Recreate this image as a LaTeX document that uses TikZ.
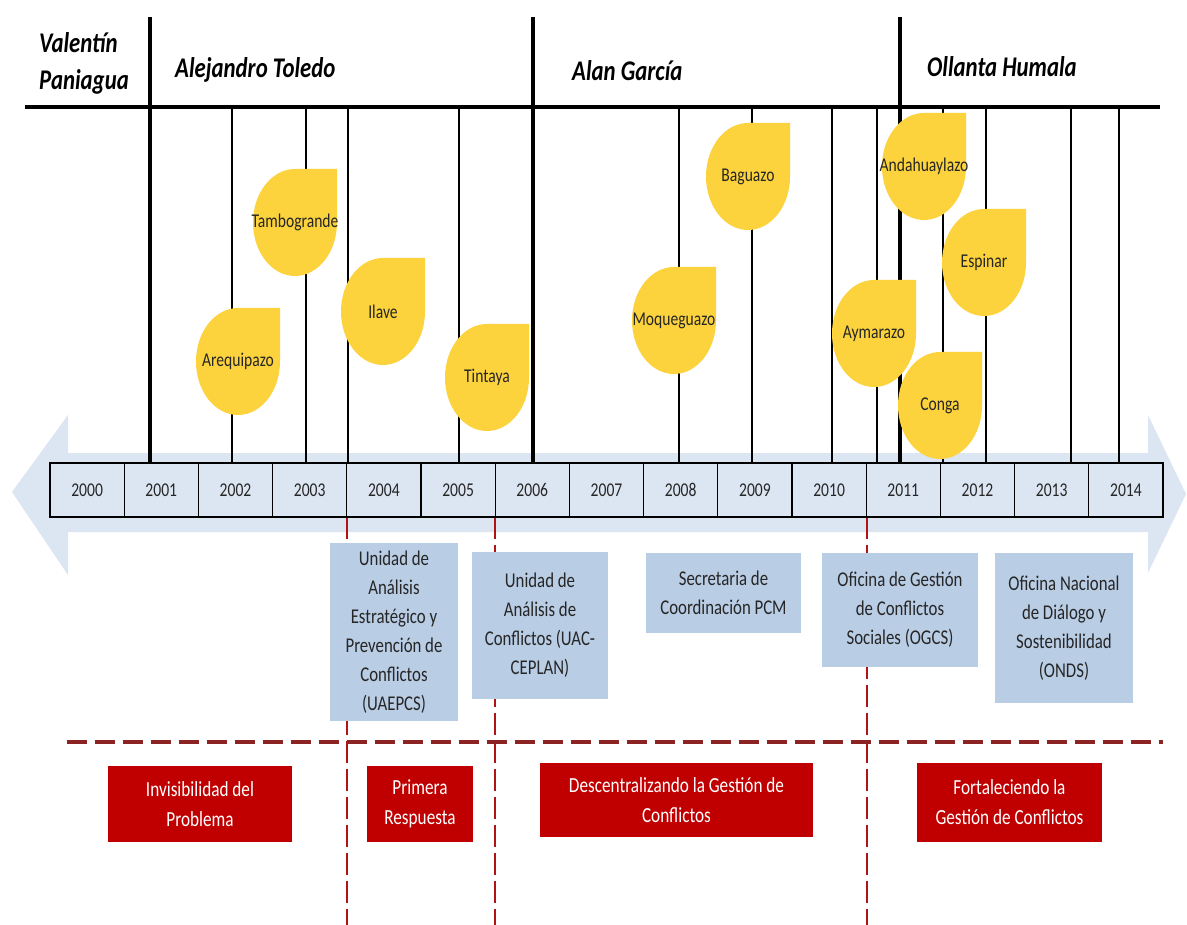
\documentclass[tikz,border=0pt]{standalone}
\usepackage{fontspec}
\setmainfont{Carlito}[FakeStretch=0.8]
\definecolor{arrowblue}{RGB}{220,230,242}
\definecolor{boxblue}{RGB}{185,205,229}
\definecolor{dropyellow}{RGB}{252,211,60}
\definecolor{boxred}{RGB}{192,0,0}
\definecolor{dashred}{RGB}{175,20,20}
\definecolor{hdashred}{RGB}{140,35,35}
\definecolor{textdark}{RGB}{38,38,38}
\newcommand{\yellowdrop}[4]{%
  \fill[dropyellow] (#1+84,#2) -- (#1+84,#2+53.5)
    arc[start angle=0,end angle=270,x radius=42,y radius=53.5] -- cycle;
  \node[droplabel] (#3) at (#1+42,#2+53.5) {#4};
}
\begin{document}
\begin{tikzpicture}[x=1pt,y=-1pt,
  yearcell/.style={draw=black,line width=1.1pt,fill=arrowblue,minimum width=74.2pt,minimum height=54pt,inner sep=0pt,text=textdark,font=\fontsize{19.5}{22}\selectfont},
  droplabel/.style={inner sep=0pt,text=textdark,font=\fontsize{19.5}{22}\selectfont},
  bluebox/.style={fill=boxblue,align=center,inner sep=0pt,text=textdark,font=\fontsize{21}{29}\selectfont},
  redbox/.style={fill=boxred,align=center,inner sep=0pt,text=white,font=\fontsize{21.5}{30}\selectfont},
  president/.style={inner sep=0pt,text=black,align=left,font=\fontsize{28.5}{37}\selectfont\bfseries\itshape},
  thickmark/.style={line width=3.5pt},
  thinmark/.style={line width=2pt},
  reddash/.style={dashred,line width=2pt,dash pattern=on 22pt off 6pt},
  hdash/.style={hdashred,line width=4pt,dash pattern=on 20pt off 8pt}
]
\fill[white] (0,0) rectangle (1187,925);
\useasboundingbox (0,0) rectangle (1187,925);

% big double arrow
\fill[arrowblue] (12,492) -- (68,415) -- (68,453) -- (1148,453) -- (1148,415)
  -- (1186,494) -- (1148,573) -- (1148,532) -- (68,532) -- (68,575) -- cycle;

% president names and header line
\node[president,anchor=west] (paniagua) at (39,63) {Valentín\\Paniagua};
\node[president,anchor=base west] (toledo) at (175,78) {Alejandro Toledo};
\node[president,anchor=base west] (garcia) at (572,81) {Alan García};
\node[president,anchor=base west] (humala) at (927,77) {Ollanta Humala};
\draw[line width=4pt] (25,107) -- (1160,107);

% vertical marks
\foreach \x in {150,533,900} \draw[thickmark] (\x,17) -- (\x,463);
\foreach \x in {232,306,348,459,679,752,832,877,943,986,1071,1119} \draw[thinmark] (\x,107) -- (\x,463);

% red dashed period separators
\foreach \x in {347,495,867} \draw[reddash] (\x,517) -- (\x,925);
\draw[hdash] (67,742) -- (1163,742);

% year cells
\foreach \i in {0,...,14}{
  \pgfmathsetmacro{\xc}{87.1+74.2*\i}
  \pgfmathtruncatemacro{\yr}{2000+\i}
  \node[yearcell] (y\yr) at (\xc,490) {\yr};
}

% conflict drops
\yellowdrop{196}{308}{arequipazo}{Arequipazo}
\yellowdrop{253}{169}{tambogrande}{Tambogrande}
\yellowdrop{341}{258}{ilave}{Ilave}
\yellowdrop{445}{324}{tintaya}{Tintaya}
\yellowdrop{632}{267}{moqueguazo}{Moqueguazo}
\yellowdrop{706}{123}{baguazo}{Baguazo}
\yellowdrop{832}{280}{aymarazo}{Aymarazo}
\yellowdrop{882}{113}{andahuaylazo}{Andahuaylazo}
\yellowdrop{898}{352}{conga}{Conga}
\yellowdrop{942}{209}{espinar}{Espinar}

% institutions
\node[bluebox,minimum width=128pt,minimum height=178pt] (uaepcs) at (394,632)
  {Unidad de\\Análisis\\Estratégico y\\Prevención de\\Conflictos\\(UAEPCS)};
\node[bluebox,minimum width=136pt,minimum height=147pt] (uac) at (540,625.5)
  {Unidad de\\Análisis de\\Conflictos (UAC-\\CEPLAN)};
\node[bluebox,minimum width=155pt,minimum height=80pt] (pcm) at (723.5,593)
  {Secretaria de\\Coordinación PCM};
\node[bluebox,minimum width=156pt,minimum height=114pt] (ogcs) at (900,610)
  {Oficina de Gestión\\de Conflictos\\Sociales (OGCS)};
\node[bluebox,minimum width=138pt,minimum height=150pt] (onds) at (1064,628)
  {Oficina Nacional\\de Diálogo y\\Sostenibilidad\\(ONDS)};

% periods
\node[redbox,minimum width=184pt,minimum height=76pt] (invis) at (200,804)
  {Invisibilidad del\\Problema};
\node[redbox,minimum width=106pt,minimum height=76pt] (primera) at (420,804)
  {Primera\\Respuesta};
\node[redbox,minimum width=273pt,minimum height=74pt] (descent) at (676.5,800)
  {Descentralizando la Gestión de\\Conflictos};
\node[redbox,minimum width=185pt,minimum height=79pt] (fortal) at (1009.5,802.5)
  {Fortaleciendo la\\Gestión de Conflictos};
\end{tikzpicture}
\end{document}
